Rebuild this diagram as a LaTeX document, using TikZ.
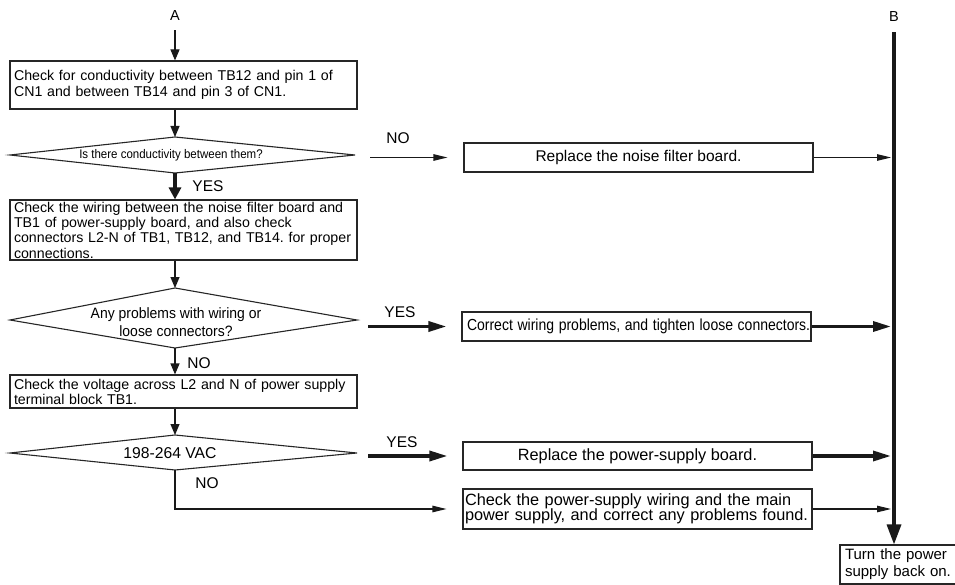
\documentclass[tikz,border=0pt]{standalone}
\usepackage{fontspec}
\setmainfont{Liberation Sans}
\usetikzlibrary{arrows.meta}
\newcommand\nar[2]{\scalebox{#1}[1]{#2}}
\frenchspacing
\begin{document}
\begin{tikzpicture}[x=1pt,y=-1pt,
  every node/.style={inner sep=0pt},
  frame/.style={draw=black!85, line width=1.1pt},
  lbox/.style={frame, font=\fontsize{14.2}{16}\selectfont, text width=339pt, inner xsep=4pt, align=left},
  rbox/.style={frame, minimum width=349pt},
  lab/.style={font=\fontsize{15.5}{18}\selectfont},
  conn/.style={draw=black!90, line width=1.1pt},
  vthin/.style={conn, -{Triangle[length=11pt,width=9pt]}},
  hthin/.style={conn, -{Triangle[length=14pt,width=6.5pt]}},
  vthick/.style={conn, line width=3.3pt, -{Triangle[length=12pt,width=12pt]}},
  hthick/.style={conn, line width=3.3pt, -{Triangle[length=18pt,width=10pt]}},
  bline/.style={conn, line width=3.3pt, -{Triangle[length=20pt,width=14pt]}},
]
\useasboundingbox (0,0) rectangle (955,585);

% top labels
\node[font=\fontsize{14.5}{16}\selectfont] (A) at (175,16) {A};
\node[font=\fontsize{14.5}{16}\selectfont] (B) at (894,17) {B};

% left column
\node[lbox, minimum height=48pt] (box1) at (183.5,85)
  {\mbox{Check for conductivity between TB12 and pin 1 of}\\\mbox{CN1 and between TB14 and pin 3 of CN1.}};

\coordinate (d1t) at (175,137);
\coordinate (d1r) at (355,155);
\coordinate (d1b) at (175,173);
\coordinate (d1l) at (10,155);
\draw[frame] (d1t) -- (d1r) -- (d1b) -- (d1l) -- cycle;
\node[font=\fontsize{12.5}{15}\selectfont] (q1) at (171,155) {\nar{0.92}{Is there conductivity between them?}};

\node[lbox, minimum height=60pt, font=\fontsize{14.2}{15.3}\selectfont] (box2) at (183.5,230)
  {\mbox{Check the wiring between the noise filter board and}\\\mbox{TB1 of power-supply board, and also check}\\\mbox{connectors L2-N of TB1, TB12, and TB14. for proper}\\\mbox{connections.}};

\coordinate (d2t) at (175,288);
\coordinate (d2r) at (357,320);
\coordinate (d2b) at (175,348);
\coordinate (d2l) at (10,320);
\draw[frame] (d2t) -- (d2r) -- (d2b) -- (d2l) -- cycle;
\node[font=\fontsize{15}{18}\selectfont, align=center] (q2) at (176,322)
  {\nar{0.93}{Any problems with wiring or}\\\nar{0.93}{loose connectors?}};

\node[lbox, minimum height=33pt, font=\fontsize{14.2}{15}\selectfont] (box3) at (183.5,391.5)
  {\mbox{Check the voltage across L2 and N of power supply}\\\mbox{terminal block TB1.}};

\coordinate (d3t) at (175,435);
\coordinate (d3r) at (357,453);
\coordinate (d3b) at (175,470);
\coordinate (d3l) at (10,453);
\draw[frame] (d3t) -- (d3r) -- (d3b) -- (d3l) -- cycle;
\node[font=\fontsize{15.7}{18}\selectfont] (q3) at (170,453) {198-264 VAC};

% right column
\node[rbox, minimum height=29pt, font=\fontsize{15.5}{18}\selectfont] (R1) at (638.5,157.5)
  {Replace the noise filter board.};
\node[rbox, minimum height=29pt, text width=339pt, inner xsep=5pt, align=left, font=\fontsize{16}{18}\selectfont] (R2) at (636.5,326.5)
  {\nar{0.875}{Correct wiring problems, and tighten loose connectors.}};
\node[rbox, minimum height=28pt, font=\fontsize{16.3}{18}\selectfont] (R3) at (637.5,456)
  {Replace the power-supply board.};
\node[rbox, minimum height=40pt, text width=345pt, inner xsep=2pt, align=left, font=\fontsize{16.3}{15.5}\selectfont] (R4) at (637.5,509)
  {\mbox{Check the power-supply wiring and the main}\\\mbox{power supply, and correct any problems found.}};
\node[frame, minimum height=39pt, text width=108pt, inner xsep=5pt, align=left, font=\fontsize{15}{17}\selectfont] (F) at (899,564.5)
  {\mbox{Turn the power}\\\mbox{supply back on.}};

% vertical flow
\draw[vthin, shorten <=9pt] (A.south) -- (A |- box1.north);
\draw[vthin] (box1.south -| d1t) -- (d1t);
\draw[vthick] (d1b) -- (d1b |- box2.north);
\node[lab] (yes1) at (208,186) {YES};
\draw[vthin] (box2.south -| d2t) -- (d2t);
\draw[vthin] (d2b) -- (d2b |- box3.north);
\node[lab] (no2) at (199,363) {NO};
\draw[vthin] (box3.south -| d3t) -- (d3t);
\draw[hthin, shorten >=16pt] (d3b) -- (d3b |- R4.west) -- (R4.west);
\node[lab] (no3) at (207,483) {NO};

% branches to the right
\draw[hthin, shorten <=15pt, shorten >=16pt] (d1r |- R1.west) -- (R1.west);
\node[lab] (no1) at (398,138) {NO};
\draw[hthick, shorten <=11pt, shorten >=15pt] (d2r |- R2.west) -- (R2.west);
\node[lab] (yes2) at (400,312) {YES};
\draw[hthick, shorten <=11pt, shorten >=15pt] (d3r |- R3.west) -- (R3.west);
\node[lab] (yes3) at (402,442) {YES};

% into B line
\draw[bline, shorten <=10pt] (B.south) -- (B |- F.north);
\draw[hthin, shorten >=3pt] (R1.east) -- (R1.east -| B);
\draw[hthick, shorten >=3pt] (R2.east) -- (R2.east -| B);
\draw[hthick, shorten >=3pt] (R3.east) -- (R3.east -| B);
\draw[hthin, shorten >=3pt] (R4.east) -- (R4.east -| B);
\end{tikzpicture}
\end{document}
